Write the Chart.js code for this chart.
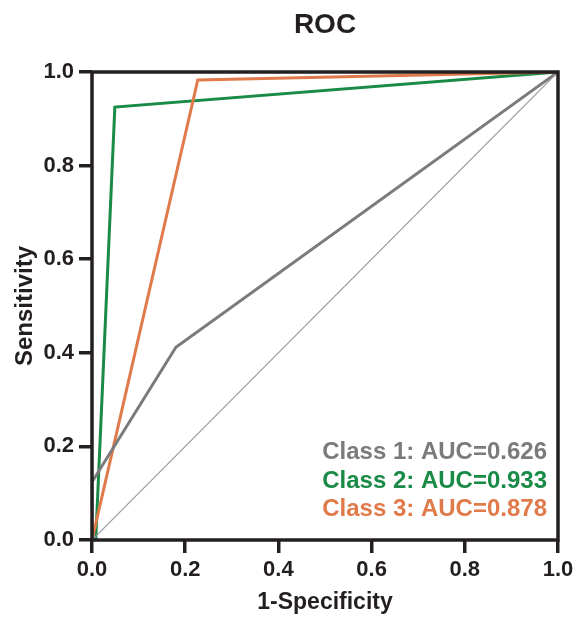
<!DOCTYPE html>
<html>
<head>
<meta charset="utf-8">
<script src="https://cdn.jsdelivr.net/npm/chart.js@4.4.1/dist/chart.umd.min.js"></script>
<style>
  html, body { margin: 0; padding: 0; background: #fff; }
  #wrap { width: 576px; height: 619px; }
</style>
</head>
<body>
<div id="wrap"><canvas id="roc"></canvas></div>
<script>
// ---- data ----
const class1X = [0, 0, 0.18, 1];
const class1Y = [0, 0.124, 0.412, 1];
const class2X = [0, 0.008, 0.049, 1];
const class2Y = [0, 0, 0.925, 1];
const class3X = [0, 0.227, 1];
const class3Y = [0, 0.983, 1];
const diagX = [0, 1];
const diagY = [0, 1];

const seriesLabels = ['Class 1: AUC=0.626', 'Class 2: AUC=0.933', 'Class 3: AUC=0.878'];
const seriesColors = ['#7b7b7d', '#1a8a47', '#e07a4b'];
const tickValues = [0, 0.2, 0.4, 0.6, 0.8, 1.0];

const toPoints = (xs, ys) => xs.map((x, i) => ({ x, y: ys[i] }));

const FONT = '"Liberation Sans", Arial, Helvetica, sans-serif';
const INK = '#231f20';

// thick frame round the plot + legend text in the lower right
const framePlugin = {
    id: 'frame',
    afterDraw(chart) {
        const { ctx, chartArea: a } = chart;
        ctx.save();
        ctx.strokeStyle = INK;
        ctx.lineWidth = 3.5;
        ctx.strokeRect(a.left, a.top, a.right - a.left, a.bottom - a.top);

        ctx.font = 'bold 24px ' + FONT;
        ctx.textAlign = 'right';
        ctx.textBaseline = 'middle';
        const ys = [452, 481, 509];
        seriesLabels.forEach((t, i) => {
            ctx.fillStyle = seriesColors[i];
            ctx.fillText(t, a.right - 11, ys[i]);
        });
        ctx.restore();
    }
};

const lineSet = (label, pts, color, width) => ({
    label, data: pts, borderColor: color, backgroundColor: color,
    borderWidth: width, showLine: true, pointRadius: 0, fill: false, tension: 0
});

new Chart(document.getElementById('roc'), {
    type: 'scatter',
    data: {
        datasets: [
            lineSet('diag', toPoints(diagX, diagY), '#999999', 1.2),
            lineSet(seriesLabels[0], toPoints(class1X, class1Y), seriesColors[0], 3),
            lineSet(seriesLabels[2], toPoints(class3X, class3Y), seriesColors[2], 3),
            lineSet(seriesLabels[1], toPoints(class2X, class2Y), seriesColors[1], 3)
        ]
    },
    options: {
        responsive: true,
        maintainAspectRatio: false,
        animation: false,
        layout: { padding: { left: 0, right: 18, top: 0, bottom: 0 } },
        plugins: {
            legend: { display: false },
            tooltip: { enabled: false },
            title: {
                display: true,
                text: 'ROC',
                fullSize: false,
                color: INK,
                font: { family: FONT, size: 28, weight: 'bold' },
                padding: { top: 8.2, bottom: 30.2 }
            }
        },
        scales: {
            x: {
                type: 'linear', min: 0, max: 1,
                afterBuildTicks: s => { s.ticks = tickValues.map(v => ({ value: v })); },
                afterFit: s => { s.height = 79; s.paddingLeft = 0; s.paddingRight = 0; },
                border: { display: false },
                grid: { drawOnChartArea: false, drawTicks: true, tickLength: 13, tickColor: INK, lineWidth: 3.5 },
                ticks: {
                    color: INK, padding: 4,
                    font: { family: FONT, size: 22, weight: 'bold' },
                    callback: v => v.toFixed(1)
                },
                title: {
                    display: true, text: '1-Specificity', color: INK,
                    font: { family: FONT, size: 23, weight: 'bold' },
                    padding: { top: 0, bottom: 3 }
                }
            },
            y: {
                type: 'linear', min: 0, max: 1,
                afterBuildTicks: s => { s.ticks = tickValues.map(v => ({ value: v })); },
                afterFit: s => { s.width = 92; },
                border: { display: false },
                grid: { drawOnChartArea: false, drawTicks: true, tickLength: 13, tickColor: INK, lineWidth: 3.5 },
                ticks: {
                    color: INK, padding: 5,
                    font: { family: FONT, size: 22, weight: 'bold' },
                    callback: v => v.toFixed(1)
                },
                title: {
                    display: true, text: 'Sensitivity', color: INK,
                    font: { family: FONT, size: 24, weight: 'bold' },
                    padding: { top: 10.6, bottom: 0 }
                }
            }
        }
    },
    plugins: [framePlugin]
});
</script>
</body>
</html>
